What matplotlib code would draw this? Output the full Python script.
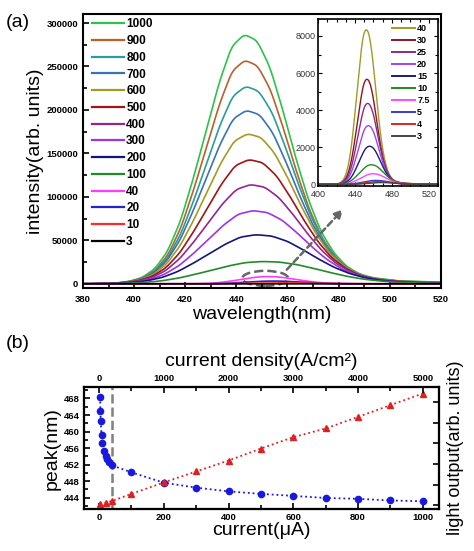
import numpy as np
import matplotlib
matplotlib.use("Agg")
import matplotlib.pyplot as plt
from matplotlib.ticker import MultipleLocator
from matplotlib.patches import Ellipse

plt.rcParams['font.family'] = ['Liberation Sans', 'DejaVu Sans']

# ---------------- data ----------------
# panel (b): peak wavelength (blue) and light output (red) vs current
cur_blue = [3, 4, 5, 7.5, 10, 15, 20, 25, 30, 40, 100, 200, 300, 400, 500, 600, 700, 800, 900, 1000]
peak_blue = [468.4, 465.0, 462.5, 459.1, 457.3, 455.3, 454.0, 453.3, 452.5, 451.8,
             450.1, 447.6, 446.4, 445.5, 444.9, 444.4, 443.9, 443.7, 443.3, 443.1]
cur_red = [3, 20, 40, 100, 200, 300, 400, 500, 600, 700, 800, 900, 1000]
light_red = [0.06, 0.14, 0.21, 0.56, 1.11, 1.64, 2.17, 2.75, 3.30, 3.72, 4.28, 4.85, 5.41]

# normalised emission line shape (offset from peak in nm -> relative intensity)
shape_offset = [-120, -60, -50, -45, -40, -35, -30, -25, -20, -15, -10, -5, 0,
                5, 10, 15, 20, 25, 30, 35, 40, 45, 50, 60, 80, 120]
shape_value = [0.0, 0.0, 0.003, 0.01, 0.025, 0.06, 0.13, 0.25, 0.42, 0.61, 0.8, 0.95, 1.0,
               0.975, 0.87, 0.7, 0.51, 0.34, 0.21, 0.125, 0.07, 0.04, 0.025, 0.012, 0.005, 0.0]

# panel (a) main spectra
main_labels = ['1000', '900', '800', '700', '600', '500', '400', '300', '200', '100', '40', '20', '10', '3']
main_current = [1000, 900, 800, 700, 600, 500, 400, 300, 200, 100, 40, 20, 10, 3]
main_peak = [287000, 257300, 227300, 199600, 172700, 143000, 114200, 84200, 56500, 25700, 8400, 3200, 1060, 100]
main_width = [1.0, 1.0, 1.02, 1.04, 1.06, 1.08, 1.11, 1.15, 1.22, 1.32, 0.66, 0.66, 0.8, 0.8]
main_colors = ['#2fc24a', '#b8622a', '#2a9c9c', '#3a72b4', '#a39a22', '#a01418', '#92268f',
               '#9b35e6', '#14147e', '#238a2a', '#ff3cff', '#2424c8', '#ff2a2a', '#000000']

# inset spectra
ins_labels = ['40', '30', '25', '20', '15', '10', '7.5', '5', '4', '3']
ins_current = [40, 30, 25, 20, 15, 10, 7.5, 5, 4, 3]
ins_peak = [8400, 5710, 4400, 3190, 2070, 1065, 578, 216, 150, 100]
ins_width = [0.62, 0.63, 0.65, 0.67, 0.7, 0.78, 0.82, 0.85, 0.85, 0.85]
ins_colors = ['#a39a22', '#8e1424', '#8a2a8a', '#9b45f0', '#1c1c72', '#1f8a22',
              '#ff45ff', '#3a3ad2', '#e02222', '#444444']

peak_of = dict(zip(cur_blue, peak_blue))
wl = np.arange(370, 540, 0.2)


def spectrum(peak, center, width):
    y = peak * np.interp((wl - center) / width, shape_offset, shape_value)
    k = np.ones(15) / 15
    return np.convolve(np.pad(y, 7, mode='edge'), k, mode='valid')


fig = plt.figure(figsize=(4.74, 5.51), dpi=100)

# ---------------- panel (a) ----------------
ax = fig.add_axes([0.175, 0.477, 0.755, 0.497])
for lab, cur, pk, w, c in zip(main_labels, main_current, main_peak, main_width, main_colors):
    ax.plot(wl, spectrum(pk, peak_of[cur], w), color=c, lw=1.2, label=lab)
ax.set_xlim(380, 520)
ax.set_ylim(-5000, 310000)
ax.xaxis.set_major_locator(MultipleLocator(20))
ax.xaxis.set_minor_locator(MultipleLocator(10))
ax.yaxis.set_major_locator(MultipleLocator(50000))
ax.yaxis.set_minor_locator(MultipleLocator(25000))
ax.tick_params(which='both', direction='in', width=1.2, labelsize=6.8)
ax.tick_params(which='major', length=4)
ax.tick_params(which='minor', length=3)
ax.tick_params(axis='x', pad=5)
for t in ax.get_xticklabels() + ax.get_yticklabels():
    t.set_fontweight('bold')
for s in ax.spines.values():
    s.set_linewidth(1.5)
ax.set_xlabel('wavelength(nm)', fontsize=14, labelpad=1)
ax.set_ylabel('intensity(arb. units)', fontsize=14, labelpad=2)
leg = ax.legend(loc='upper left', bbox_to_anchor=(0.025, 0.985), frameon=False,
                prop={'size': 8.5, 'weight': 'bold'}, handlelength=2.7, handletextpad=0.2,
                labelspacing=0.40, borderaxespad=0, borderpad=0)
for l in leg.get_lines():
    l.set_linewidth(1.6)

ax.add_patch(Ellipse((451.3, 6300), 18, 17300, fill=False, ls='--', lw=1.8, ec='#666666'))
ax.annotate('', xy=(482.5, 88000), xytext=(459, 14000),
            arrowprops=dict(arrowstyle='-|>', ls=(0, (2.5, 1.5)), lw=1.8, color='#666666',
                            mutation_scale=12))

# inset
ai = fig.add_axes([0.671, 0.662, 0.253, 0.303])
for lab, cur, pk, w, c in zip(ins_labels, ins_current, ins_peak, ins_width, ins_colors):
    ai.plot(wl, spectrum(pk, peak_of[cur], w), color=c, lw=1.0, label=lab)
ai.set_xlim(400, 530)
ai.set_ylim(-100, 8900)
ai.xaxis.set_major_locator(MultipleLocator(40))
ai.xaxis.set_minor_locator(MultipleLocator(10))
ai.yaxis.set_major_locator(MultipleLocator(2000))
ai.yaxis.set_minor_locator(MultipleLocator(1000))
ai.tick_params(which='both', direction='in', top=True, right=True, labelsize=6.5,
               labelcolor='#333333', width=0.8, pad=1.5)
ai.tick_params(axis='x', pad=3)
ai.tick_params(which='major', length=3)
ai.tick_params(which='minor', length=2)
for s in ai.spines.values():
    s.set_linewidth(1.2)
ileg = ai.legend(loc='upper right', bbox_to_anchor=(0.93, 0.97), frameon=False,
                 prop={'size': 6.5, 'weight': 'bold'}, handlelength=2.6, handletextpad=0.2,
                 labelspacing=0.33, borderaxespad=0, borderpad=0)
for l in ileg.get_lines():
    l.set_linewidth(1.4)

fig.text(0.012, 0.975, '(a)', fontsize=14, va='top')
fig.text(0.012, 0.392, '(b)', fontsize=14, va='top')

# ---------------- panel (b) ----------------
axb = fig.add_axes([0.177, 0.076, 0.749, 0.221])
axb.axvline(40, color='#808080', ls='--', lw=1.8)
axb.plot(cur_blue, peak_blue, ls=':', lw=1.3, color='#1818e0', marker='o', ms=4.5)
axb.set_xlim(-47, 1050)
axb.set_ylim(441.2, 470.7)
axb.xaxis.set_major_locator(MultipleLocator(200))
axb.xaxis.set_minor_locator(MultipleLocator(100))
axb.yaxis.set_major_locator(MultipleLocator(4))
axb.yaxis.set_minor_locator(MultipleLocator(2))
axb.tick_params(which='both', direction='in', labelsize=6.8, width=1.2, pad=3)
axb.tick_params(which='major', length=4)
axb.tick_params(which='minor', length=3)
axb.set_xlabel('current(\u03bcA)', fontsize=14, labelpad=0)
axb.set_ylabel('peak(nm)', fontsize=14, labelpad=2)

axr = axb.twinx()
axr.plot(cur_red, light_red, ls=':', lw=1.3, color='#e02020', marker='^', ms=5)
axr.set_ylim(-0.18, 5.71)
axr.yaxis.set_major_locator(MultipleLocator(1))
axr.tick_params(direction='in', length=4, width=1.2, labelright=False)
axr.set_ylabel('light output(arb. units)', fontsize=13, labelpad=6)

axt = axb.twiny()
axt.set_xlim(-47 * 5, 1050 * 5)
axt.xaxis.set_major_locator(MultipleLocator(1000))
axt.xaxis.set_minor_locator(MultipleLocator(500))
axt.tick_params(which='both', direction='in', labelsize=6.8, width=1.2, pad=3)
axt.tick_params(which='major', length=4)
axt.tick_params(which='minor', length=3)
axt.set_xlabel('current density(A/cm\u00b2)', fontsize=14, labelpad=6)

for a in (axb, axr, axt):
    for s in a.spines.values():
        s.set_linewidth(1.5)
for t in axb.get_xticklabels() + axb.get_yticklabels() + axt.get_xticklabels():
    t.set_fontweight('bold')

fig.savefig('out.png', dpi=100)
